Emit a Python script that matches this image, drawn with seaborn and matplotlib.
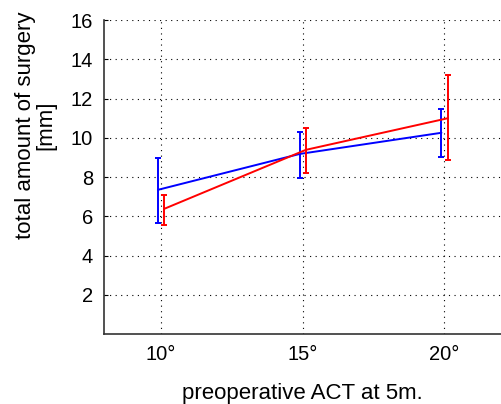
import numpy as np
import pandas as pd
import matplotlib
matplotlib.use('Agg')
import matplotlib.pyplot as plt
import seaborn as sns

# data
act_deg = [10, 15, 20]
blue_mean = [7.35, 9.18, 10.26]
blue_low = [5.66, 7.96, 9.03]
blue_high = [8.98, 10.30, 11.48]
red_mean = [6.38, 9.39, 11.00]
red_low = [5.56, 8.20, 8.88]
red_high = [7.09, 10.50, 13.20]
x_ticklabels = ['10°', '15°', '20°']
y_ticks = [2, 4, 6, 8, 10, 12, 14, 16]

sns.set_style('white')
plt.rcParams['font.family'] = ['Liberation Sans', 'DejaVu Sans']
plt.rcParams['text.color'] = 'black'
plt.rcParams['axes.labelcolor'] = 'black'

fig = plt.figure(figsize=(5.01, 4.04), dpi=100)
ax = fig.add_axes([0.2076, 0.1733, 0.7924, 0.7767])

groups = [
    ('blue', -0.1, blue_mean, blue_low, blue_high),
    ('red', 0.12, red_mean, red_low, red_high),
]
for color, dx, mean, low, high in groups:
    xs = np.array(act_deg) + dx
    df = pd.DataFrame({'x': xs, 'y': mean})
    sns.lineplot(data=df, x='x', y='y', color=color, lw=1.4, ax=ax)
    m = np.array(mean)
    yerr = [m - np.array(low), np.array(high) - m]
    ax.errorbar(xs, m, yerr=yerr, fmt='none', ecolor=color,
                elinewidth=1.4, capsize=2.5, capthick=1.4)

ax.set_xlim(8, 22)
ax.set_ylim(0, 16)
ax.set_xticks(act_deg)
ax.set_xticklabels(x_ticklabels)
ax.set_yticks(y_ticks)
ax.grid(True, color='black', linestyle=(0, (1, 4)), linewidth=0.8)
ax.tick_params(axis='both', direction='in', length=3, labelsize=14.5,
               colors='black', left=True, bottom=False, pad=8)
for side in ['top', 'right']:
    ax.spines[side].set_visible(False)
for side in ['left', 'bottom']:
    ax.spines[side].set_color('#333333')
    ax.spines[side].set_linewidth(1.2)

ax.set_xlabel('preoperative ACT at 5m.', fontsize=16)
ax.xaxis.set_label_coords(0.5, -0.155)
ax.set_ylabel('total amount of surgery\n[mm]', fontsize=16, linespacing=0.95)
ax.yaxis.set_label_coords(-0.12, 0.666)

fig.savefig('out.png', dpi=100)
